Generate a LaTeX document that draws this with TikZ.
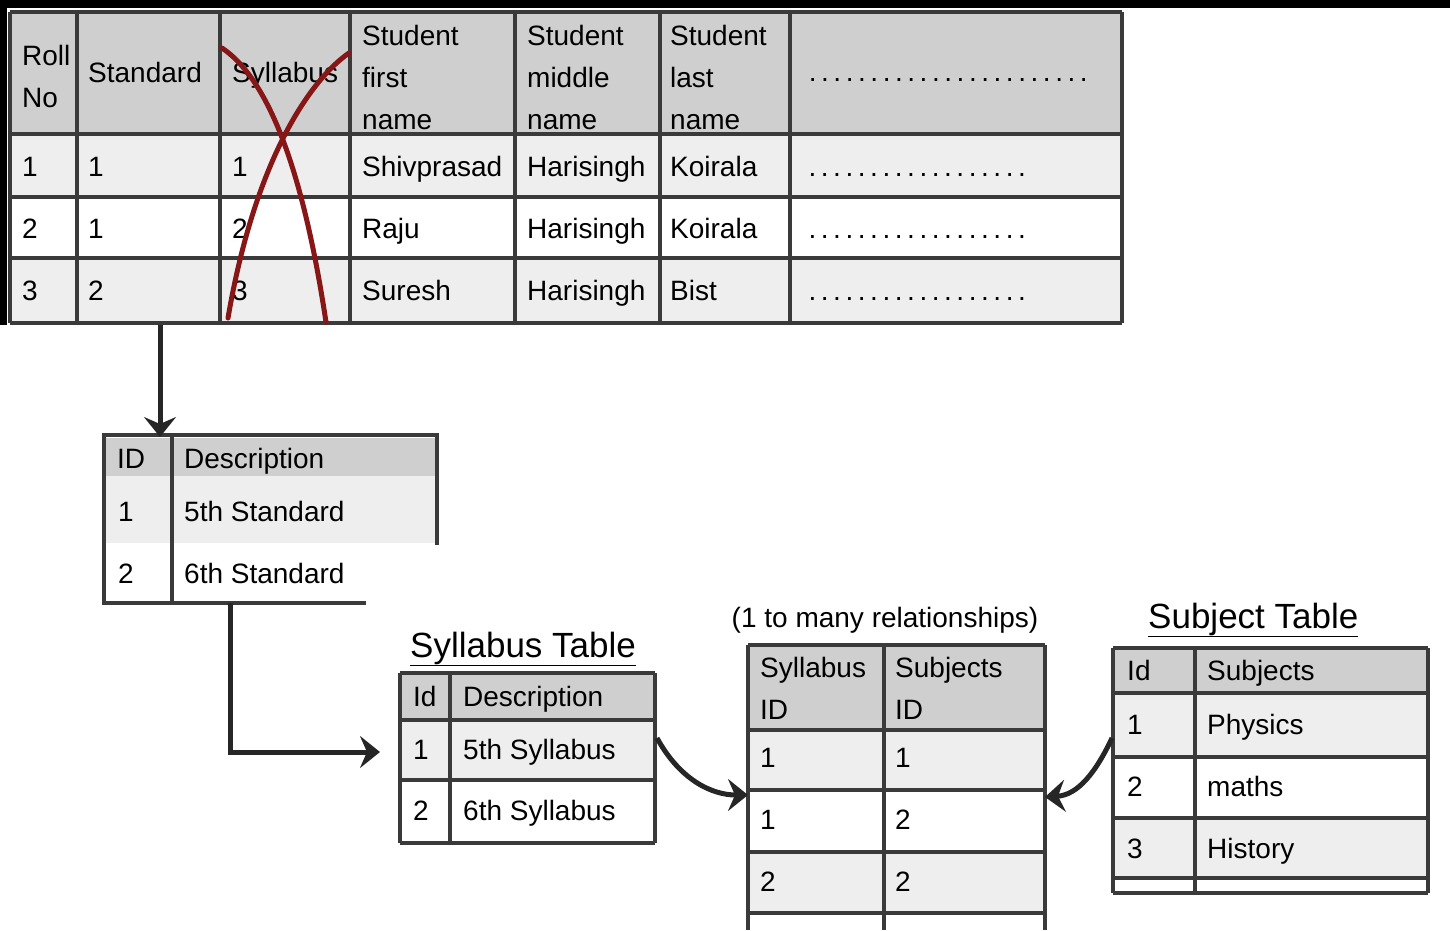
\documentclass[tikz,border=0pt]{standalone}
\usepackage{fontspec}
\setmainfont{Liberation Sans}
\usetikzlibrary{arrows.meta}
\definecolor{HeadGray}{RGB}{207,207,207}
\definecolor{RowGray}{RGB}{238,238,238}
\definecolor{LineGray}{RGB}{58,58,58}
\definecolor{CrossRed}{RGB}{135,22,22}
\tikzset{
  cell/.style = {anchor = base west, inner sep = 0pt, font = \fontsize{28}{42}\selectfont},
  multi/.style = {anchor = north west, inner sep = 0pt, align = left, font = \fontsize{28}{42}\selectfont},
  tabletitle/.style = {anchor = base west, inner sep = 0pt, font = \fontsize{35}{40}\selectfont},
  cellline/.style = {draw = LineGray, line width = 3.5pt},
  link/.style = {draw = black!85, line width = 5pt, -{Stealth[length = 20pt, width = 32pt, inset = 7pt]}},
  strike/.style = {draw = CrossRed, line width = 5pt, line cap = round}
}
\begin{document}
\begin{tikzpicture}[x = 1pt, y = -1pt]
              \useasboundingbox (0,0) rectangle (1450,930);
              \fill [fill = black] (0,0) rectangle (1450,8);
              \fill [fill = black] (0,0) rectangle (7,325);
              \fill [fill = HeadGray] (10,12) rectangle (1122,134);
              \foreach \y in {134, 258}
              \fill [fill = RowGray] (10,\y) rectangle (1122,\y+63);
              \foreach \x in {10, 77, 220, 350, 515, 660, 790, 1122}
              \draw [cellline] (\x,12) -- (\x,323);
              \foreach \y in {12, 134, 197, 258, 323}
              \draw [cellline] (10,\y) -- (1122,\y);
              \node [multi] (hRoll) at (22,45) {Roll\\No};
              \node [cell] (hStd) at (88,82) {Standard};
              \node [cell] (hSyl) at (232,82) {Syllabus};
              \node [multi] (hFirst) at (362,25) {Student\\first\\name};
              \node [multi] (hMid) at (527,25) {Student\\middle\\name};
              \node [multi] (hLast) at (670,25) {Student\\last\\name};
              \node [cell] (hMore) at (803,81) {\makebox[290pt][l]{\dotfill}};
              \foreach \a/\b/\c/\d/\e/\f [count = \r] in {1/1/1/Shivprasad/Harisingh/Koirala, 2/1/2/Raju/Harisingh/Koirala, 3/2/3/Suresh/Harisingh/Bist}
              {\node [cell] (roll\r) at (22,114+62*\r) {\a};
              \node [cell] (std\r) at (88,114+62*\r) {\b};
              \node [cell] (syl\r) at (232,114+62*\r) {\c};
              \node [cell] (first\r) at (362,114+62*\r) {\d};
              \node [cell] (mid\r) at (527,114+62*\r) {\e};
              \node [cell] (last\r) at (670,114+62*\r) {\f};
              \node [cell] (more\r) at (803,114+62*\r) {\makebox[228pt][l]{\dotfill}};}
              \draw [strike] (222,48) .. controls (262,75) and (300,150) .. (326,322);
              \draw [strike] (349,53) .. controls (310,80) and (255,160) .. (228,318);
              \fill [fill = HeadGray] (104,438) rectangle (437,476);
              \fill [fill = RowGray] (104,476) rectangle (437,543);
              \draw [cellline] (366,603) -- (104,603) -- (104,435) -- (437,435) -- (437,545);
              \draw [cellline] (172,435) -- (172,603);
              \node [cell] (stdId) at (117,468) {ID};
              \node [cell] (stdDesc) at (184,468) {Description};
              \foreach \a/\b [count = \r] in {1/5th Standard, 2/6th Standard}
              {\node [cell] (stdId\r) at (118,459+62*\r) {\a};
              \node [cell] (stdDesc\r) at (184,459+62*\r) {\b};}
              \coordinate (mainOut) at (160,325);
              \coordinate (stdIn) at (160,437);
              \coordinate (stdOut) at (230,603);
              \coordinate (sylIn) at (380,752);
              \draw [link] (mainOut) -- (stdIn);
              \draw [link] (stdOut) |- (sylIn);
              \node [tabletitle] (sylTitle) at (410,657) {\underline{Syllabus Table}};
              \fill [fill = HeadGray] (400,673) rectangle (655,720);
              \fill [fill = RowGray] (400,720) rectangle (655,780);
              \foreach \x in {400, 450, 655}
              \draw [cellline] (\x,673) -- (\x,843);
              \foreach \y in {673, 720, 780, 843}
              \draw [cellline] (400,\y) -- (655,\y);
              \node [cell] (sylId) at (413,706) {Id};
              \node [cell] (sylDesc) at (463,706) {Description};
              \foreach \a/\b [count = \r] in {1/5th Syllabus, 2/6th Syllabus}
              {\node [cell] (sylId\r) at (413,698+61*\r) {\a};
              \node [cell] (sylDesc\r) at (463,698+61*\r) {\b};}
              \node [cell, anchor = base] (relNote) at (885,627) {(1 to many relationships)};
              \fill [fill = HeadGray] (748,645) rectangle (1045,730);
              \foreach \y in {730, 852}
              \fill [fill = RowGray] (748,\y) rectangle (1045,\y+61);
              \foreach \x in {748, 884, 1045}
              \draw [cellline] (\x,645) -- (\x,930);
              \foreach \y in {645, 730, 790, 852, 913}
              \draw [cellline] (748,\y) -- (1045,\y);
              \node [multi] (junSyl) at (760,657) {Syllabus\\ID};
              \node [multi] (junSub) at (895,657) {Subjects\\ID};
              \foreach \a/\b [count = \r] in {1/1, 1/2, 2/2}
              {\node [cell] (junSyl\r) at (760,705+62*\r) {\a};
              \node [cell] (junSub\r) at (895,705+62*\r) {\b};}
              \node [tabletitle] (subTitle) at (1148,628) {\underline{Subject Table}};
              \fill [fill = HeadGray] (1113,648) rectangle (1428,693);
              \foreach \y in {693, 818}
              \fill [fill = RowGray] (1113,\y) rectangle (1428,\y+62);
              \foreach \x in {1113, 1195, 1428}
              \draw [cellline] (\x,648) -- (\x,893);
              \foreach \y in {648, 693, 757, 818, 878, 893}
              \draw [cellline] (1113,\y) -- (1428,\y);
              \node [cell] (subId) at (1127,680) {Id};
              \node [cell] (subName) at (1207,680) {Subjects};
              \foreach \a/\b [count = \r] in {1/Physics, 2/maths, 3/History}
              {\node [cell] (subId\r) at (1127,672+62*\r) {\a};
              \node [cell] (subName\r) at (1207,672+62*\r) {\b};}
              \coordinate (sylOut) at (657,738);
              \coordinate (junLeft) at (748,795);
              \coordinate (subOut) at (1112,738);
              \coordinate (junRight) at (1045,797);
              \draw [link] (sylOut) .. controls (680,780) and (712,795) .. (junLeft);
              \draw [link] (subOut) .. controls (1096,772) and (1078,795) .. (junRight);
            \end{tikzpicture}
\end{document}
